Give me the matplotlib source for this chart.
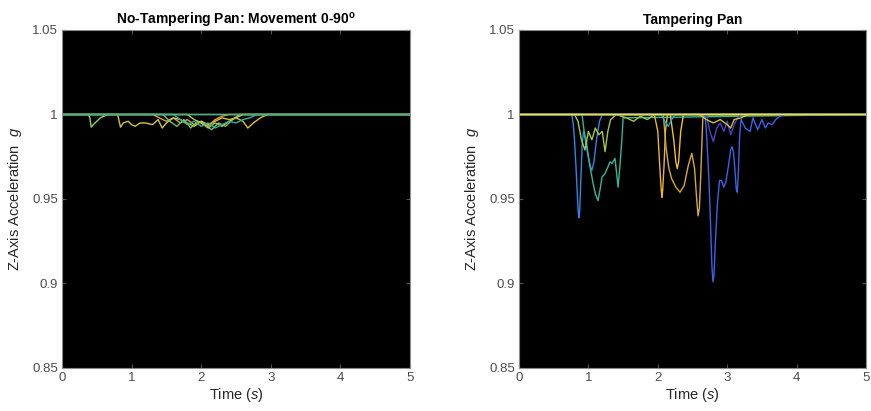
import matplotlib
matplotlib.use("Agg")
import matplotlib.pyplot as plt

plt.rcParams['font.family'] = ['Liberation Sans', 'DejaVu Sans']
plt.rcParams['mathtext.fontset'] = 'custom'
plt.rcParams['mathtext.it'] = 'Liberation Sans:italic'
plt.rcParams['mathtext.rm'] = 'Liberation Sans'
plt.rcParams['mathtext.bf'] = 'Liberation Sans:bold'

# ---------------- Left panel data (No-Tampering) ----------------
left_c1_t = [0, 0.38, 0.40, 0.42, 0.45, 0.50, 0.55, 0.60, 0.65, 5]
left_c1_y = [1, 1, 0.998, 0.9925, 0.994, 0.996, 0.998, 0.999, 1, 1]

left_c2_t = [0, 0.80, 0.84, 0.88, 0.95, 1.00, 1.05, 1.12, 1.20, 1.30, 1.38, 1.44, 1.50,
             1.60, 1.70, 1.80, 1.90, 2.00, 2.10, 2.20, 2.30, 2.40, 2.50, 2.60, 2.67,
             2.75, 2.85, 2.95, 5]
left_c2_y = [1, 1, 0.9925, 0.995, 0.996, 0.994, 0.993, 0.995, 0.995, 0.994, 0.997, 0.992,
             0.995, 0.998, 0.997, 0.995, 0.993, 0.996, 0.994, 0.996, 0.998, 0.997, 0.998,
             0.996, 0.992, 0.995, 0.998, 1, 1]

left_c3_t = [0, 1.45, 1.55, 1.65, 1.75, 1.85, 1.95, 2.05, 2.15, 2.25, 2.35, 2.45, 2.55, 5]
left_c3_y = [1, 1, 0.996, 0.993, 0.997, 0.992, 0.996, 0.994, 0.991, 0.995, 0.993, 0.997, 1, 1]

left_c4_t = [0, 1.60, 1.70, 1.80, 1.90, 2.00, 2.10, 2.20, 2.30, 2.40, 2.50, 2.60, 2.70, 2.80, 5]
left_c4_y = [1, 1, 0.997, 0.994, 0.996, 0.993, 0.995, 0.992, 0.994, 0.996, 0.995, 0.997, 0.998, 1, 1]

left_c5_t = [0, 1.30, 1.40, 1.50, 1.60, 1.70, 1.80, 1.90, 2.00, 2.10, 2.20, 2.30, 2.40, 5]
left_c5_y = [1, 1, 0.998, 0.996, 0.998, 0.995, 0.997, 0.994, 0.996, 0.993, 0.997, 0.999, 1, 1]

left_c6_t = [0, 1.80, 1.90, 2.00, 2.10, 2.20, 2.30, 2.40, 2.50, 2.60, 5]
left_c6_y = [1, 1, 0.997, 0.995, 0.992, 0.995, 0.993, 0.996, 0.998, 1, 1]

left_base_t = [0, 5]
left_base_y = [1, 1]

# ---------------- Right panel data (Tampering) ----------------
right_b1_t = [0, 0.76, 0.78, 0.80, 0.82, 0.84, 0.855, 0.865, 0.875, 0.89, 0.91, 0.93,
              0.97, 1.00, 1.03, 1.05, 1.08, 1.12, 1.16, 1.20, 5]
right_b1_y = [1, 1, 0.995, 0.985, 0.970, 0.953, 0.942, 0.939, 0.943, 0.960, 0.982, 0.990,
              0.985, 0.975, 0.969, 0.967, 0.972, 0.986, 0.996, 1, 1]

right_t1_t = [0, 0.908, 0.951, 1.02, 1.066, 1.10, 1.138, 1.17, 1.196, 1.239, 1.282, 1.311,
              1.34, 1.383, 1.405, 1.427, 1.455, 1.484, 1.50, 5]
right_t1_y = [1, 1, 0.986, 0.970, 0.9595, 0.953, 0.949, 0.956, 0.963, 0.965, 0.969, 0.972,
              0.971, 0.974, 0.966, 0.957, 0.970, 0.986, 0.998, 1]

right_g1_t = [0, 0.80, 0.85, 0.90, 0.95, 1.00, 1.05, 1.10, 1.15, 1.20, 1.24, 1.28, 1.32, 1.40,
              1.55, 1.65, 1.75, 1.85, 1.95, 5]
right_g1_y = [1, 1, 0.996, 0.985, 0.979, 0.990, 0.985, 0.992, 0.988, 0.990, 0.978, 0.990,
              0.997, 1, 0.998, 0.996, 0.999, 0.997, 1, 1]

right_y1_t = [0, 1.95, 2.00, 2.03, 2.05, 2.06, 2.07, 2.09, 2.11, 2.14, 5]
right_y1_y = [1, 1, 0.990, 0.968, 0.955, 0.951, 0.955, 0.970, 0.990, 1, 1]

right_y2_t = [0, 2.08, 2.12, 2.16, 2.20, 2.26, 2.32, 2.38, 2.44, 2.49, 2.53, 2.56, 2.58,
              2.60, 2.62, 2.65, 5]
right_y2_y = [1, 1, 0.980, 0.968, 0.962, 0.957, 0.954, 0.958, 0.970, 0.977, 0.968, 0.950,
              0.940, 0.945, 0.965, 1, 1]

right_y3_t = [0, 2.18, 2.23, 2.26, 2.28, 2.30, 2.33, 2.37, 5]
right_y3_y = [1, 1, 0.985, 0.972, 0.968, 0.972, 0.990, 1, 1]

right_c1_t = [0, 2.05, 2.10, 2.15, 2.20, 2.25, 5]
right_c1_y = [1, 1, 0.996, 0.993, 0.997, 1, 1]

right_b2_t = [0, 2.68, 2.70, 2.72, 2.74, 2.76, 2.78, 2.795, 2.81, 2.83, 2.86, 2.89, 2.92,
              2.95, 2.98, 3.02, 3.05, 3.07, 3.09, 3.11, 3.13, 3.145, 3.16, 3.18, 3.20,
              3.26, 3.33, 3.37, 3.44, 3.50, 3.55, 3.59, 3.65, 3.70, 3.76, 3.83, 5]
right_b2_y = [1, 1, 0.990, 0.975, 0.958, 0.935, 0.910, 0.901, 0.905, 0.925, 0.948, 0.961,
              0.961, 0.957, 0.960, 0.970, 0.979, 0.981, 0.978, 0.968, 0.956, 0.954, 0.965,
              0.988, 0.997, 0.992, 0.990, 0.998, 0.991, 0.997, 0.992, 0.995, 0.994, 0.997,
              0.999, 1, 1]

right_p1_t = [0, 2.70, 2.75, 2.80, 2.85, 2.90, 2.95, 3.00, 3.05, 3.10, 3.15, 3.20, 5]
right_p1_y = [1, 1, 0.990, 0.984, 0.992, 0.995, 0.990, 0.996, 0.988, 0.994, 0.998, 1, 1]

right_o1_t = [0, 2.60, 2.70, 2.80, 2.90, 3.00, 3.05, 3.10, 3.20, 3.30, 5]
right_o1_y = [1, 1, 0.997, 0.995, 0.997, 0.994, 0.992, 0.997, 0.998, 1, 1]

right_base_t = [0, 5]
right_base_y = [1, 1]

x_ticks = [0, 1, 2, 3, 4, 5]
y_ticks = [0.85, 0.9, 0.95, 1, 1.05]
y_tick_labels = ['0.85', '0.9', '0.95', '1', '1.05']

left_series = [
    (left_c1_t, left_c1_y, '#8fd45a'),
    (left_c5_t, left_c5_y, '#e0a040'),
    (left_c2_t, left_c2_y, '#d2c43c'),
    (left_c3_t, left_c3_y, '#74c15c'),
    (left_c6_t, left_c6_y, '#b8c448'),
    (left_c4_t, left_c4_y, '#2fb0a0'),
    (left_base_t, left_base_y, '#48ae8c'),
]

right_series = [
    (right_b1_t, right_b1_y, '#2f86e6'),
    (right_t1_t, right_t1_y, '#33b89a'),
    (right_g1_t, right_g1_y, '#a8c840'),
    (right_y1_t, right_y1_y, '#e8b830'),
    (right_y2_t, right_y2_y, '#d8a838'),
    (right_y3_t, right_y3_y, '#f0c030'),
    (right_c1_t, right_c1_y, '#1fa8cc'),
    (right_b2_t, right_b2_y, '#3a62e8'),
    (right_p1_t, right_p1_y, '#5040c8'),
    (right_o1_t, right_o1_y, '#c8c040'),
    (right_base_t, right_base_y, '#e6e040'),
]

fig = plt.figure(figsize=(8.71, 4.11), dpi=100)
ax1 = fig.add_axes([62/871, 43/411, 348/871, 338/411])
ax2 = fig.add_axes([519/871, 43/411, 347/871, 338/411])

tick_col = '#4d4d4d'
for ax, series, title in [(ax1, left_series, r'No-Tampering Pan: Movement 0-90$^{\mathbf{o}}$'),
                          (ax2, right_series, 'Tampering Pan')]:
    ax.set_facecolor('black')
    for t, y, c in series:
        ax.plot(t, y, color=c, lw=1.0)
    ax.set_xlim(0, 5)
    ax.set_ylim(0.85, 1.05)
    ax.set_xticks(x_ticks)
    ax.set_xticklabels([str(v) for v in x_ticks])
    ax.set_yticks(y_ticks)
    ax.set_yticklabels(y_tick_labels)
    ax.tick_params(direction='in', length=3, colors='#555555', labelcolor=tick_col,
                   labelsize=9.5, pad=3, top=True, right=True)
    for s in ax.spines.values():
        s.set_color('#8c8c8c')
        s.set_linewidth(0.8)
    ax.set_xlabel('Time ($s$)', fontsize=10.5, color='#262626', labelpad=1)
    ax.set_ylabel('Z-Axis Acceleration  $g$', fontsize=10.5, color='#262626', labelpad=6)
    ax.set_title(title, fontsize=10, fontweight='bold', color='black', pad=4)

fig.savefig('out.png', dpi=100, facecolor='white')
